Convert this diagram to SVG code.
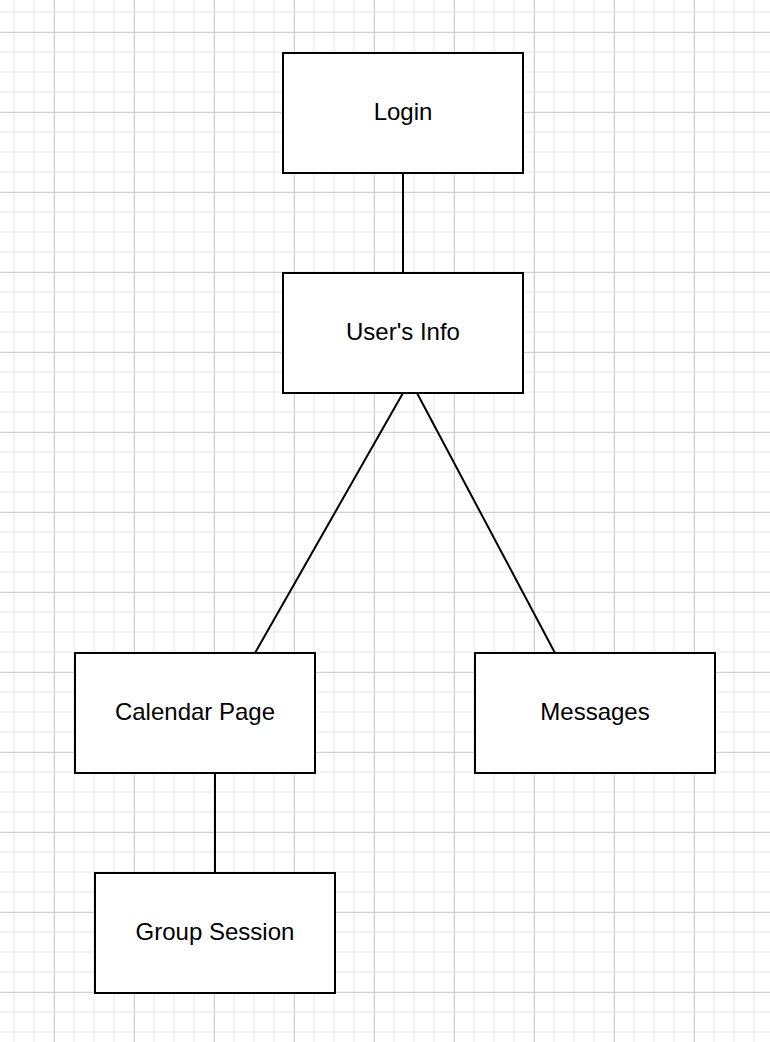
<svg xmlns="http://www.w3.org/2000/svg" width="770" height="1042" viewBox="0 0 770 1042">
<style>
.box{fill:#ffffff;stroke:#000000;stroke-width:2}
.lbl{font-family:"Liberation Sans",Arial,sans-serif;font-size:24px;fill:#000000;text-anchor:middle}
.edge{fill:none;stroke:#000000;stroke-width:2}
</style>
<defs>
<pattern id="minor" patternUnits="userSpaceOnUse" x="0" y="0" width="20" height="20">
<path d="M14 0V20M0 12H20" stroke="#e6e6e6" stroke-width="1" fill="none"/>
</pattern>
<pattern id="major" patternUnits="userSpaceOnUse" x="0" y="0" width="80" height="80">
<path d="M54.5 0V80M0 32.5H80" stroke="#d0d0d0" stroke-width="1" fill="none"/>
</pattern>
</defs>
<rect width="770" height="1042" fill="#ffffff"/>
<rect width="770" height="1042" fill="url(#minor)"/>
<rect width="770" height="1042" fill="url(#major)"/>
<g id="connectors">
<path class="edge" d="M403 173V273"/>
<path class="edge" d="M403 393L255 653"/>
<path class="edge" d="M417 393L555 653"/>
<path class="edge" d="M215 773V873"/>
</g>
<g id="login"><rect class="box" x="283" y="53" width="240" height="120"/><text class="lbl" x="403" y="120">Login</text></g>
<g id="userinfo"><rect class="box" x="283" y="273" width="240" height="120"/><text class="lbl" x="403" y="340">User's Info</text></g>
<g id="calendar"><rect class="box" x="75" y="653" width="240" height="120"/><text class="lbl" x="195" y="720">Calendar Page</text></g>
<g id="messages"><rect class="box" x="475" y="653" width="240" height="120"/><text class="lbl" x="595" y="720">Messages</text></g>
<g id="group"><rect class="box" x="95" y="873" width="240" height="120"/><text class="lbl" x="215" y="940">Group Session</text></g>
</svg>
